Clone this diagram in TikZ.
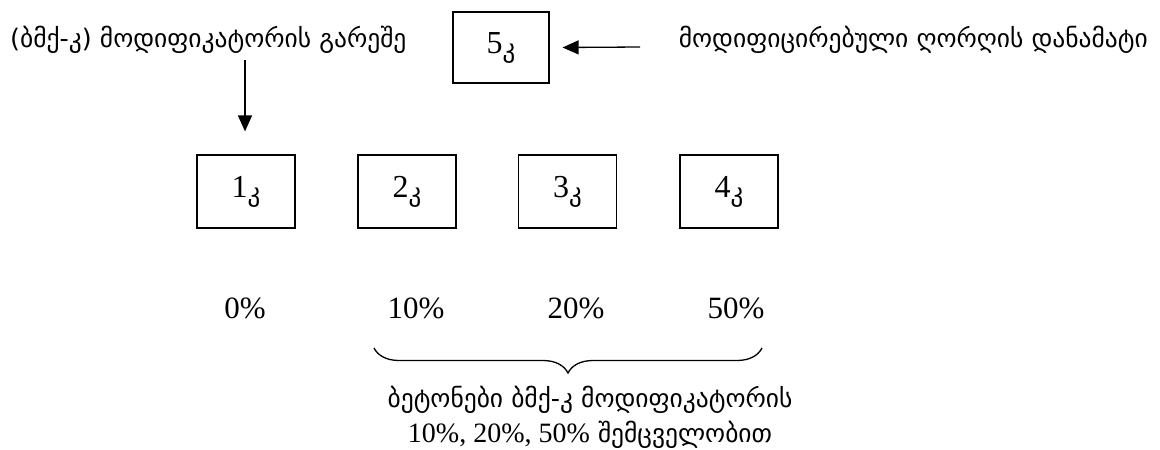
\documentclass[tikz,border=0pt]{standalone}
\usepackage{fontspec}
\setmainfont{Liberation Serif}
\newfontfamily\geo{DejaVu Sans}
\usetikzlibrary{decorations.pathreplacing,arrows.meta}
\begin{document}
\begin{tikzpicture}[x=1pt,y=-1pt,
  numbox/.style={draw,line width=1.2pt,minimum width=98pt,minimum height=73pt,inner sep=0pt,font=\fontsize{32}{34}\selectfont},
  geotext/.style={font=\geo\fontsize{25.5}{35}\selectfont,inner sep=0pt},
  pct/.style={font=\fontsize{31}{33}\selectfont,inner sep=0pt,anchor=base},
  arr/.style={line width=1.3pt,-{Triangle[length=16pt,width=14pt]}}]
\useasboundingbox (0,0) rectangle (1160,450);
\newcommand{\kk}[1]{#1\raisebox{-4pt}{\geo\fontsize{25}{27}\selectfont კ}}
\node[geotext,anchor=base west] (tl) at (10,47) {(ბმქ-კ) მოდიფიკატორის გარეშე};
\node[geotext,anchor=base east] (tr) at (1148,47) {მოდიფიცირებული ღორღის დანამატი};
\node[numbox,minimum width=96pt,minimum height=71pt] (b5) at (501,47.5) {\kk{5}};
\node[numbox] (b1) at (246,191.5) {\kk{1}};
\node[numbox] (b2) at (407,191.5) {\kk{2}};
\node[numbox] (b3) at (567.5,191.5) {\kk{3}};
\node[numbox] (b4) at (729,191.5) {\kk{4}};
\coordinate (a5) at (640,47);
\coordinate (a1) at (245,60);
\draw[arr] (a5) -- ([xshift=13pt]b5.east);
\draw[arr] (a1) -- ([yshift=23pt]b1.north -| a1);
\node[pct] (p0) at (245,318) {0\%};
\node[pct] (p1) at (416,318) {10\%};
\node[pct] (p2) at (576,318) {20\%};
\node[pct] (p3) at (736,318) {50\%};
\coordinate (bl) at (374,348);
\coordinate (br) at (762,348);
\draw[line width=1.3pt,decorate,decoration={brace,mirror,amplitude=25pt,aspect=0.5}] (bl) -- (br);
\node[geotext,align=center] (bt) at (590,417) {ბეტონები ბმქ-კ მოდიფიკატორის\\{\rmfamily\fontsize{28}{35}\selectfont 10\%, 20\%, 50\%} შემცველობით};
\end{tikzpicture}
\end{document}
